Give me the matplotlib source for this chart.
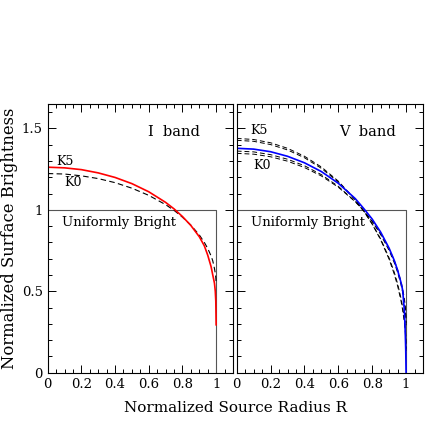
import matplotlib
matplotlib.use('Agg')
import matplotlib.pyplot as plt
from matplotlib.ticker import MultipleLocator

plt.rcParams['font.family'] = ['DejaVu Serif']

# Radios normalizados de la fuente
radio = [0, 0.1, 0.2, 0.3, 0.4, 0.5, 0.6, 0.7, 0.75, 0.8, 0.85, 0.9,
         0.93, 0.95, 0.97, 0.98, 0.99, 0.995, 0.998, 1.0]

# Banda I: K5 (rojo) y K0 (discontinua)
i_k5 = [1.262, 1.258, 1.247, 1.227, 1.199, 1.161, 1.111, 1.046, 1.006, 0.959,
        0.904, 0.835, 0.779, 0.722, 0.651, 0.600, 0.550, 0.500, 0.440, 0.294]
i_k0 = [1.223, 1.220, 1.209, 1.192, 1.167, 1.133, 1.089, 1.032, 0.997, 0.955,
        0.906, 0.846, 0.800, 0.763, 0.717, 0.687, 0.640, 0.610, 0.585, 0.554]

# Banda V: ajuste (azul) y cuatro modelos (discontinuas)
v_ajuste = [1.378, 1.373, 1.357, 1.329, 1.289, 1.235, 1.163, 1.069, 1.008, 0.943,
            0.863, 0.764, 0.690, 0.629, 0.554, 0.506, 0.380, 0.250, 0.140, 0.0]
v_modelos = [
    [1.439, 1.432, 1.412, 1.378, 1.329, 1.263, 1.176, 1.063, 0.993, 0.912,
     0.816, 0.696, 0.606, 0.533, 0.442, 0.384, 0.308, 0.254, 0.206, 0.122],
    [1.427, 1.421, 1.401, 1.368, 1.320, 1.255, 1.171, 1.061, 0.993, 0.914,
     0.821, 0.704, 0.617, 0.546, 0.457, 0.401, 0.326, 0.274, 0.227, 0.146],
    [1.361, 1.356, 1.339, 1.311, 1.271, 1.216, 1.144, 1.051, 0.994, 0.928,
     0.848, 0.750, 0.676, 0.616, 0.541, 0.493, 0.430, 0.386, 0.346, 0.278],
    [1.347, 1.342, 1.326, 1.299, 1.260, 1.208, 1.139, 1.050, 0.995, 0.931,
     0.855, 0.760, 0.689, 0.632, 0.560, 0.514, 0.454, 0.411, 0.373, 0.307],
]

# Disco uniforme
unif_r = [0, 1, 1]
unif_i = [1, 1, 0]

fig = plt.figure(figsize=(4.4, 4.4), dpi=100)
ax1 = fig.add_axes([0.1084, 0.153, 0.4211, 0.6106])
ax2 = fig.add_axes([0.538, 0.153, 0.4234, 0.6106])

dash = (0, (5, 3))

for ax in (ax1, ax2):
    ax.plot(unif_r, unif_i, color='#555555', lw=0.8)
    ax.set_xlim(0, 1.1)
    ax.set_ylim(0, 1.65)
    ax.xaxis.set_major_locator(MultipleLocator(0.2))
    ax.xaxis.set_minor_locator(MultipleLocator(0.05))
    ax.yaxis.set_major_locator(MultipleLocator(0.5))
    ax.yaxis.set_minor_locator(MultipleLocator(0.1))
    ax.tick_params(which='both', direction='in', top=True, right=True, labelsize=9.5)
    ax.tick_params(which='major', length=6, width=0.7)
    ax.tick_params(which='minor', length=3, width=0.7)
    ax.xaxis.set_major_formatter(plt.FuncFormatter(lambda v, p: f'{v:g}'))
    ax.yaxis.set_major_formatter(plt.FuncFormatter(lambda v, p: f'{v:g}'))
    for s in ax.spines.values():
        s.set_linewidth(0.8)
    ax.text(0.085, 0.92, 'Uniformly Bright', fontsize=9.5, va='center', ha='left')

# Panel banda I
ax1.plot(radio, i_k0, color='black', lw=0.8, linestyle=dash)
ax1.plot(radio, i_k5, color='red', lw=1.2)
ax1.text(0.75, 1.48, 'I  band', fontsize=10.5, ha='center', va='center')
ax1.text(0.05, 1.30, 'K5', fontsize=9, ha='left', va='center')
ax1.text(0.10, 1.17, 'K0', fontsize=9, ha='left', va='center')
ax1.set_ylabel('Normalized Surface Brightness', fontsize=11.8, labelpad=3)

# Panel banda V
for curva in v_modelos:
    ax2.plot(radio, curva, color='black', lw=0.7, linestyle=dash)
ax2.plot(radio, v_ajuste, color='blue', lw=1.2)
ax2.text(0.77, 1.48, 'V  band', fontsize=10.5, ha='center', va='center')
ax2.text(0.08, 1.49, 'K5', fontsize=9, ha='left', va='center')
ax2.text(0.10, 1.27, 'K0', fontsize=9, ha='left', va='center')
ax2.tick_params(labelleft=False)

fig.text(0.535, 0.072, 'Normalized Source Radius R', fontsize=11, ha='center', va='center')

fig.savefig('out.png', dpi=100)
